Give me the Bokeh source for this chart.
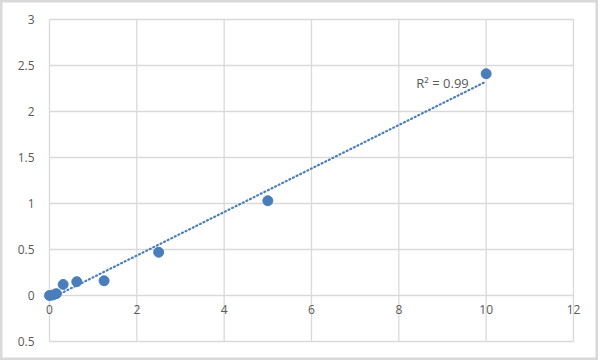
import numpy as np
from bokeh.plotting import figure
from bokeh.models import Range1d, Label
from bokeh.embed import file_html
from bokeh.resources import INLINE

# Data
conc = [0, 0.078, 0.156, 0.3125, 0.625, 1.25, 2.5, 5, 10]
od = [0.0, 0.005, 0.02, 0.12, 0.15, 0.16, 0.47, 1.03, 2.41]
x_ticks = [0, 2, 4, 6, 8, 10, 12]
x_tick_labels = ["0", "2", "4", "6", "8", "10", "12"]
y_ticks = [-0.5, 0, 0.5, 1, 1.5, 2, 2.5, 3]
y_tick_labels = ["0.5", "0", "0.5", "1", "1.5", "2", "2.5", "3"]
r2_text = "R\u00b2 = 0.99"

BLUE = "#4A7EBB"
GRID = "#D9D9D9"
TXT = "#595959"
FONT = "Open Sans"

W, H = 598, 360
# plot area in canvas pixels: x 0..12 -> 49..573, y 3..-0.5 -> 19..341
px_per_x = (573 - 49) / (x_ticks[-1] - x_ticks[0])
px_per_y = (341 - 19) / (y_ticks[-1] - y_ticks[0])
x0 = x_ticks[0] - 49 / px_per_x
x1 = x_ticks[0] + (W - 49) / px_per_x
y1 = y_ticks[-1] + 19 / px_per_y
y0 = y_ticks[-1] - (H - 19) / px_per_y

p = figure(width=W, height=H, output_backend="svg", toolbar_location=None,
           x_range=Range1d(x0, x1), y_range=Range1d(y0, y1),
           min_border=0, min_border_left=0, min_border_right=0,
           min_border_top=0, min_border_bottom=0)
p.xaxis.visible = False
p.yaxis.visible = False
p.xgrid.visible = False
p.ygrid.visible = False
p.background_fill_color = "white"
p.border_fill_color = "white"
p.outline_line_color = GRID
p.outline_line_width = 4

# grid lines on the tick values
n_x, n_y = len(x_ticks), len(y_ticks)
p.segment(x0=x_ticks, y0=[y_ticks[0]] * n_x, x1=x_ticks, y1=[y_ticks[-1]] * n_x,
          line_color=GRID, line_width=1.3)
p.segment(x0=[x_ticks[0]] * n_y, y0=y_ticks, x1=[x_ticks[-1]] * n_y, y1=y_ticks,
          line_color=GRID, line_width=1.3)

# tick labels
for t, lab in zip(x_ticks, x_tick_labels):
    p.add_layout(Label(x=t, y=0, y_offset=-9, text=lab, text_font=FONT,
                       text_font_size="12px", text_color=TXT,
                       text_align="center", text_baseline="top"))
for t, lab in zip(y_ticks, y_tick_labels):
    p.add_layout(Label(x=x_ticks[0], y=t, x_offset=-15, text=lab, text_font=FONT,
                       text_font_size="12px", text_color=TXT,
                       text_align="right", text_baseline="middle"))

# linear trendline from the data
slope, intercept = np.polyfit(conc, od, 1)
tx = np.array([min(conc), max(conc)])
p.line(tx, slope * tx + intercept, line_color=BLUE, line_width=2.2, line_dash="1 3", line_cap="round")

p.scatter(conc, od, size=10, fill_color=BLUE, line_color=BLUE)

p.add_layout(Label(x=8.4, y=2.315, text=r2_text, text_font=FONT, text_font_size="13px",
                   text_color=TXT, text_baseline="middle", text_align="left"))

open("out.html", "w").write(file_html(p, INLINE))
